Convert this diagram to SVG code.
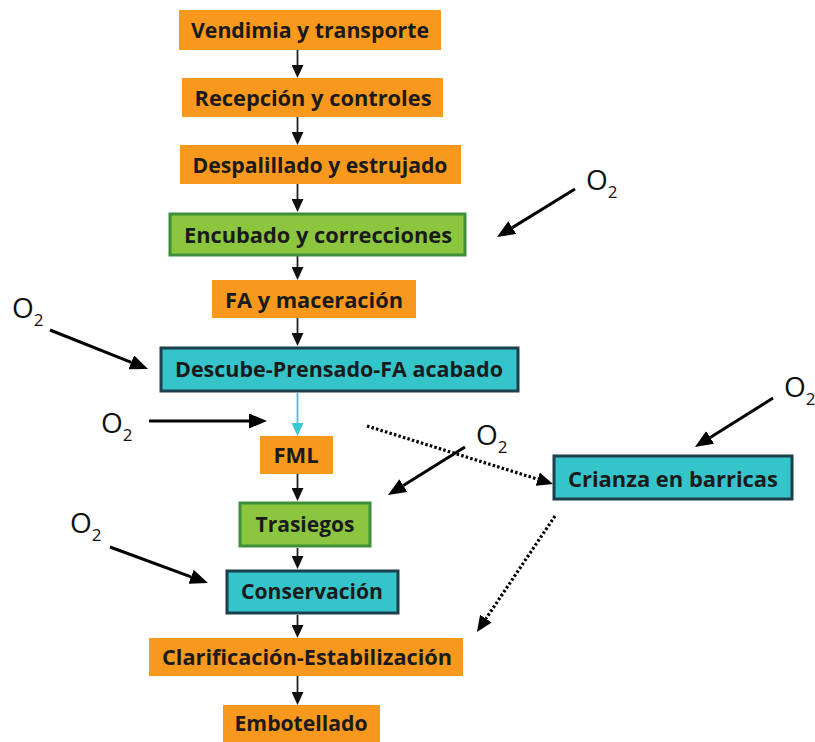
<svg xmlns="http://www.w3.org/2000/svg" width="815" height="742" viewBox="0 0 815 742">
<defs>
<style>
.or{fill:#F8991D;}
.gr{fill:#8CC63F;stroke:#3E8E3A;stroke-width:3;}
.cy{fill:#35C4C9;stroke:#1D3F4C;stroke-width:3;}
.t{font-family:"Open Sans","Liberation Sans",sans-serif;font-weight:700;font-size:21px;fill:#1a1a1a;text-anchor:middle;}
.o{font-family:"Open Sans","Liberation Sans",sans-serif;font-size:28px;fill:#111;}
.s{font-size:17px;}
.c{stroke:#222;stroke-width:1.8;fill:none;marker-end:url(#ah);}
.cc{stroke:#38C8CF;stroke-width:1.8;fill:none;marker-end:url(#ahc);}
.ox{stroke:#000;stroke-width:3;fill:none;marker-end:url(#ahb);}
.dt{stroke:#000;stroke-width:3.2;fill:none;stroke-dasharray:2.5 2.2;marker-end:url(#ahd);}
</style>
<marker id="ah" markerUnits="userSpaceOnUse" markerWidth="13" markerHeight="12" refX="0" refY="6" orient="auto"><path d="M0,0 L13,6 L0,12 z" fill="#111"/></marker>
<marker id="ahc" markerUnits="userSpaceOnUse" markerWidth="13" markerHeight="12" refX="0" refY="6" orient="auto"><path d="M0,0 L13,6 L0,12 z" fill="#38C8CF"/></marker>
<marker id="ahb" markerUnits="userSpaceOnUse" markerWidth="18" markerHeight="15" refX="0" refY="7.5" orient="auto"><path d="M0,0 L18,7.5 L0,15 z" fill="#000"/></marker>
<marker id="ahd" markerUnits="userSpaceOnUse" markerWidth="16" markerHeight="14" refX="0" refY="7" orient="auto"><path d="M0,0 L16,7 L0,14 z" fill="#000"/></marker>
</defs>
<rect width="815" height="742" fill="#fff"/>

<g id="connectors">
<line class="c" x1="297.5" y1="50" x2="297.5" y2="65"/>
<line class="c" x1="297.5" y1="117" x2="297.5" y2="132"/>
<line class="c" x1="297.5" y1="184" x2="297.5" y2="199"/>
<line class="c" x1="297.5" y1="256" x2="297.5" y2="267"/>
<line class="c" x1="297.5" y1="318" x2="297.5" y2="333"/>
<line class="cc" x1="297.5" y1="393" x2="297.5" y2="423"/>
<line class="c" x1="297.5" y1="474" x2="297.5" y2="488"/>
<line class="c" x1="297.5" y1="548" x2="297.5" y2="556"/>
<line class="c" x1="297.5" y1="615" x2="297.5" y2="625"/>
<line class="c" x1="297.5" y1="676" x2="297.5" y2="692"/>
<line class="ox" x1="575" y1="189" x2="512.3" y2="227.6"/>
<line class="ox" x1="50" y1="330" x2="131.3" y2="362.3"/>
<line class="ox" x1="149" y1="421" x2="249" y2="421"/>
<line class="ox" x1="465" y1="447" x2="403.3" y2="485.5"/>
<line class="ox" x1="773" y1="398" x2="710.2" y2="437.4"/>
<line class="ox" x1="110" y1="547" x2="191.1" y2="576.8"/>
<line class="dt" x1="367" y1="426" x2="537.7" y2="479.2"/>
<line class="dt" x1="555" y1="516" x2="485.9" y2="618.7"/>
</g>

<g id="n1"><rect class="or" x="179" y="10" width="262" height="40"/><text class="t" x="310" y="38" textLength="238" lengthAdjust="spacingAndGlyphs">Vendimia y transporte</text></g>
<g id="n2"><rect class="or" x="182" y="78" width="261" height="39"/><text class="t" x="313" y="106" textLength="237" lengthAdjust="spacingAndGlyphs">Recepción y controles</text></g>
<g id="n3"><rect class="or" x="180" y="145" width="281" height="39"/><text class="t" x="320" y="173" textLength="255" lengthAdjust="spacingAndGlyphs">Despalillado y estrujado</text></g>
<g id="n4"><rect class="gr" x="170" y="214" width="295" height="41"/><text class="t" x="318" y="243" textLength="268" lengthAdjust="spacingAndGlyphs">Encubado y correcciones</text></g>
<g id="n5"><rect class="or" x="212" y="280" width="204" height="38"/><text class="t" x="314" y="308" textLength="178" lengthAdjust="spacingAndGlyphs">FA y maceración</text></g>
<g id="n6"><rect class="cy" x="161" y="348" width="357" height="43"/><text class="t" x="339" y="377" textLength="328" lengthAdjust="spacingAndGlyphs">Descube-Prensado-FA acabado</text></g>
<g id="n7"><rect class="or" x="260" y="436" width="73" height="38"/><text class="t" x="296" y="463" textLength="45" lengthAdjust="spacingAndGlyphs">FML</text></g>
<g id="n8"><rect class="gr" x="240" y="503" width="130" height="43"/><text class="t" x="305" y="532" textLength="99" lengthAdjust="spacingAndGlyphs">Trasiegos</text></g>
<g id="n9"><rect class="cy" x="227" y="571" width="171" height="42"/><text class="t" x="312" y="599" textLength="142" lengthAdjust="spacingAndGlyphs">Conservación</text></g>
<g id="n10"><rect class="or" x="149" y="638" width="314" height="38"/><text class="t" x="307" y="665" textLength="290" lengthAdjust="spacingAndGlyphs">Clarificación-Estabilización</text></g>
<g id="n11"><rect class="or" x="223" y="705" width="157" height="40"/><text class="t" x="301" y="731" textLength="133" lengthAdjust="spacingAndGlyphs">Embotellado</text></g>
<g id="n12"><rect class="cy" x="554" y="456" width="238" height="43"/><text class="t" x="673" y="487" textLength="210" lengthAdjust="spacingAndGlyphs">Crianza en barricas</text></g>

<g id="o2-labels">
<text class="o" x="586" y="190">O<tspan class="s" dy="8">2</tspan></text>
<text class="o" x="12" y="318">O<tspan class="s" dy="8">2</tspan></text>
<text class="o" x="101" y="433">O<tspan class="s" dy="8">2</tspan></text>
<text class="o" x="476" y="445">O<tspan class="s" dy="8">2</tspan></text>
<text class="o" x="784" y="397">O<tspan class="s" dy="8">2</tspan></text>
<text class="o" x="70" y="533">O<tspan class="s" dy="8">2</tspan></text>
</g>
</svg>
